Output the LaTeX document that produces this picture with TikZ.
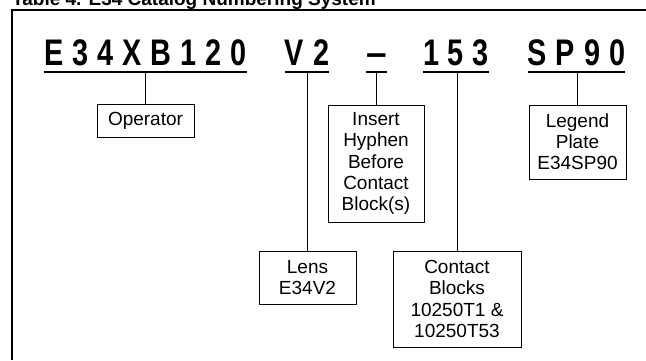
\documentclass[tikz,border=0pt]{standalone}
\usepackage{fontspec}
\setmainfont{Liberation Sans}
\newfontfamily\codefont[FakeStretch=0.78,LetterSpace=24]{Liberation Sans Bold}
\usetikzlibrary{positioning}

\begin{document}
\begin{tikzpicture}[x=1pt, y=-1pt,
  code/.style={inner sep=0pt, anchor=base, font=\codefont\fontsize{37}{40}\selectfont},
  info/.style={draw, line width=0.9pt, align=center, inner sep=0pt, minimum width=97pt, font=\fontsize{19}{21.2}\selectfont},
  link/.style={line width=0.9pt},
  uline/.style={line width=2.4pt}]
\useasboundingbox (0,0) rectangle (646,360);
\node[anchor=base west, inner sep=0pt, font=\bfseries\fontsize{19}{22}\selectfont] (title) at (12,5) {Table 4. E34 Catalog Numbering System};
\draw[line width=1.2pt] (12,360) -- (12,10) -- (646,10);
% catalog number parts
\node[code] (op) at (145.5,65) {E34XB120};
\node[code] (lens) at (307,65) {V2};
\node[code, font=\bfseries\fontsize{37}{40}\selectfont] (dash) at (376.5,65) {–};
\node[code] (blk) at (456,65) {153};
\node[code] (leg) at (576.5,65) {SP90};
% boxes
\node[info, minimum height=33pt] (opbox) at (145.5,120.5) {Operator};
\node[info, minimum width=96pt, minimum height=117pt] (hyph) at (376,163.5) {Insert\\Hyphen\\Before\\Contact\\Block(s)};
\node[info, minimum height=74pt] (legbox) at (577.5,142) {Legend\\Plate\\E34SP90};
\node[info, minimum height=53pt] (lensbox) at (307.5,277.5) {Lens\\E34V2};
\node[info, minimum width=128pt, minimum height=96pt] (blkbox) at (457,299) {Contact\\Blocks\\10250T1 \&\\10250T53};
\foreach \c/\b in {op/opbox, lens/lensbox, dash/hyph, blk/blkbox, leg/legbox} {
  \draw[uline] ([yshift=-7pt]\c.base west) -- ([yshift=-7pt]\c.base east);
  \draw[link] ([yshift=-7pt]\c.base -| \b.north) -- (\b.north);
}
\end{tikzpicture}
\end{document}
